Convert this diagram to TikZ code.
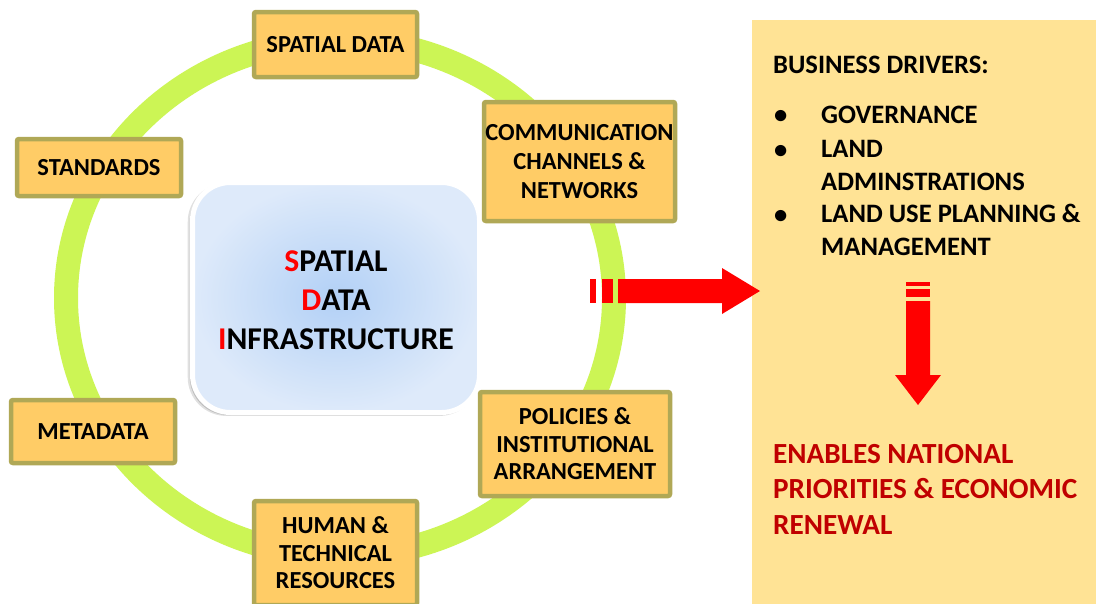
\documentclass[tikz,border=0pt]{standalone}
\usepackage{fontspec}
\setmainfont{Carlito}
\usetikzlibrary{shadows}
\definecolor{ringgreen}{RGB}{204,245,85}
\definecolor{boxfill}{RGB}{255,204,102}
\definecolor{boxline}{RGB}{176,168,86}
\definecolor{panelfill}{RGB}{255,227,149}
\definecolor{blueinner}{RGB}{178,208,246}
\definecolor{blueouter}{RGB}{222,234,250}
\definecolor{darkred}{RGB}{192,0,0}
\definecolor{arrowred}{RGB}{255,0,0}
\begin{document}
\begin{tikzpicture}[x=1pt,y=-1pt,
  item/.style={draw=boxline, line width=4.5pt, fill=boxfill, rounded corners=2pt,
    align=center, inner sep=0pt, font=\fontsize{24.5}{27.5}\selectfont\bfseries},
  sdibox/.style={draw=white, line width=5pt, rounded corners=38pt,
    inner color=blueinner, outer color=blueouter,
    general shadow={shadow xshift=-3pt, shadow yshift=-2pt, shadow scale=1.012, opacity=0.12, fill=black},
    general shadow={shadow xshift=-2pt, shadow yshift=-2pt, shadow scale=1.005, opacity=0.15, fill=black},
    general shadow={shadow xshift=-1pt, shadow yshift=-1pt, opacity=0.15, fill=black},
    minimum width=287pt, minimum height=230pt},
  sditext/.style={align=center, inner sep=0pt, font=\fontsize{31.7}{39}\selectfont\bfseries},
  paneltext/.style={anchor=base west, inner sep=0pt, align=left, font=\fontsize{26.6}{32.5}\selectfont\bfseries},
  redtext/.style={anchor=base west, inner sep=0pt, align=left, text=darkred, font=\fontsize{29.2}{35.5}\selectfont\bfseries},
  redfill/.style={fill=arrowred, draw=none}
]
\useasboundingbox (0,0) rectangle (1096,603);
\clip (0,0) rectangle (1096,603);
\fill[white] (0,0) rectangle (1096,603);

% right panel
\fill[panelfill] (752,20) rectangle (1100,610);

% ring
\draw[ringgreen, line width=24pt] (340,298) ellipse [x radius=274, y radius=258];

% central box
\node[sdibox] (sdi) at (336,297.5) {};
\node[sditext] (sdit) at (336,300) {\textcolor{arrowred}{S}PATIAL\\\textcolor{arrowred}{D}ATA\\\textcolor{arrowred}{I}NFRASTRUCTURE};

% surrounding boxes
\node[item, minimum width=163pt, minimum height=65pt] (spd) at (335.5,44.5) {SPATIAL DATA};
\node[item, minimum width=191pt, minimum height=119pt, font=\fontsize{24.5}{29}\selectfont\bfseries] (com) at (579.5,161.5) {COMMUNICATION\\CHANNELS \&\\NETWORKS};
\node[item, minimum width=164pt, minimum height=57pt] (std) at (99,167.5) {STANDARDS};
\node[item, minimum width=164pt, minimum height=63pt] (met) at (93,431.5) {METADATA};
\node[item, minimum width=190pt, minimum height=104pt] (pol) at (575,444) {POLICIES \&\\INSTITUTIONAL\\ARRANGEMENT};
\node[item, minimum width=163pt, minimum height=104pt] (hum) at (335.5,553) {HUMAN \&\\TECHNICAL\\RESOURCES};

% right arrow
\coordinate (ra) at (590,291);
\coordinate (rb) at (760,291);
\fill[redfill] ([yshift=-12pt]ra) rectangle ([xshift=6pt,yshift=12pt]ra);
\fill[redfill] ([xshift=12pt,yshift=-12pt]ra) rectangle ([xshift=23pt,yshift=12pt]ra);
\fill[redfill] ([xshift=28pt,yshift=-12pt]ra) -- ([xshift=-38pt,yshift=-12pt]rb) -- ([xshift=-38pt,yshift=-23pt]rb)
  -- (rb) -- ([xshift=-38pt,yshift=23pt]rb) -- ([xshift=-38pt,yshift=12pt]rb) -- ([xshift=28pt,yshift=12pt]ra) -- cycle;

% down arrow
\coordinate (da) at (918,282);
\coordinate (db) at (918,405);
\fill[redfill] ([xshift=-12pt]da) rectangle ([xshift=12pt,yshift=-4pt]da);
\fill[redfill] ([xshift=-12pt,yshift=-7pt]da) rectangle ([xshift=12pt,yshift=-15pt]da);
\fill[redfill] ([xshift=-12pt,yshift=-19pt]da) -- ([xshift=-12pt,yshift=30pt]db) -- ([xshift=-23pt,yshift=30pt]db)
  -- (db) -- ([xshift=23pt,yshift=30pt]db) -- ([xshift=12pt,yshift=30pt]db) -- ([xshift=12pt,yshift=-19pt]da) -- cycle;

% panel text
\node[paneltext] (bd) at (773,73) {BUSINESS DRIVERS:};
\node[paneltext] (b1) at (774,123) {•};
\node[paneltext] (t1) at (821,123) {GOVERNANCE};
\node[paneltext] (b2) at (774,158) {•};
\node[paneltext] (t2) at (821,190) {LAND\\ADMINSTRATIONS};
\node[paneltext] (b3) at (774,223) {•};
\node[paneltext] (t3) at (821,255) {LAND USE PLANNING \&\\MANAGEMENT};
\node[redtext] (en) at (773,534) {ENABLES NATIONAL\\PRIORITIES \& ECONOMIC\\RENEWAL};
\end{tikzpicture}
\end{document}
